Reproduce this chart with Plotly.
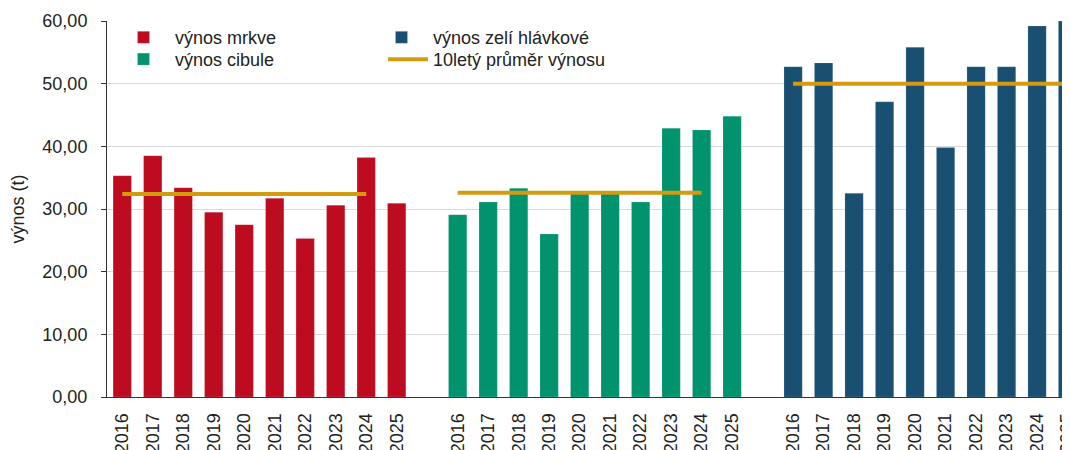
import plotly.graph_objects as go

years = ["2016", "2017", "2018", "2019", "2020", "2021", "2022", "2023", "2024", "2025"]

mrkev = [35.3, 38.5, 33.4, 29.5, 27.5, 31.7, 25.3, 30.6, 38.2, 30.9]
cibule = [29.1, 31.1, 33.3, 26.0, 32.7, 32.5, 31.1, 42.9, 42.6, 44.8]
zeli = [52.7, 53.3, 32.5, 47.1, 55.8, 39.8, 52.7, 52.7, 59.2, 60.0]

avg_mrkev = 32.4
avg_cibule = 32.6
avg_zeli = 50.0

names = ["výnos mrkve", "výnos cibule", "výnos zelí hlávkové"]
colors = ["#BD0B1F", "#00936D", "#194F70"]
avg_color = "#D69A10"
avg_name = "10letý průměr výnosu"

series = [mrkev, cibule, zeli]
avgs = [avg_mrkev, avg_cibule, avg_zeli]
avg_years = [years[:9], years[:9], years]  # spans of the average lines

n = len(years)
step = n + 1  # one empty slot between groups


def slot(g, y):
    return g * step + years.index(y)


fig = go.Figure()
legend_for = ["legend", "legend2", "legend3"]
for g, (vals, nm, col) in enumerate(zip(series, names, colors)):
    fig.add_trace(go.Bar(
        x=[slot(g, y) for y in years], y=vals, name=nm,
        marker=dict(color=col, line=dict(color="rgba(255,255,255,0.3)", width=0.5)),
        width=0.6, legend=legend_for[g], showlegend=True,
    ))

for g, (av, ys) in enumerate(zip(avgs, avg_years)):
    fig.add_trace(go.Scatter(
        x=[slot(g, y) for y in ys], y=[av] * len(ys), mode="lines",
        line=dict(color=avg_color, width=4), name=avg_name,
        legend="legend4", showlegend=(g == 0),
    ))

tickvals = [slot(g, y) for g in range(3) for y in years]
ticktext = [y for g in range(3) for y in years]

font = "Liberation Sans, Arial, sans-serif"
FS = 18


def leg(x, y, iw):
    return dict(x=x, y=y, xanchor="left", yanchor="top",
                bgcolor="rgba(255,255,255,0)", font=dict(size=FS),
                itemwidth=iw, visible=True)


# the page body has an 8px margin, so the figure is sized to end at the window edge
fig.update_layout(
    width=1062, height=442,
    margin=dict(l=99, r=0, t=13, b=53),
    plot_bgcolor="white", paper_bgcolor="white",
    separators=", ",
    showlegend=True,
    font=dict(family=font, size=FS, color="#222"),
    xaxis=dict(
        range=[-0.5, 31.08], tickvals=tickvals, ticktext=ticktext,
        tickangle=-90, showgrid=False, showline=True, linecolor="#333",
        linewidth=1, ticks="", tickfont=dict(size=FS), zeroline=False,
        automargin=False, ticklabelstandoff=8, ticklabeloverflow="allow",
    ),
    yaxis=dict(
        range=[0, 60], dtick=10, tickformat=".2f", gridcolor="#d9d9d9",
        showline=True, linecolor="#333", linewidth=1, ticks="outside",
        ticklen=5, tickcolor="#333", zeroline=False, automargin=False,
        ticklabelstandoff=10,
        title=dict(text="výnos (t)", standoff=14, font=dict(size=FS)),
        tickfont=dict(size=FS),
    ),
    legend=leg(0.0052, 1.005, 53),
    legend2=leg(0.0052, 0.947, 53),
    legend3=leg(0.2731, 1.005, 53),
    legend4=leg(0.2866, 0.947, 40),
)

fig.write_html("out.html")
